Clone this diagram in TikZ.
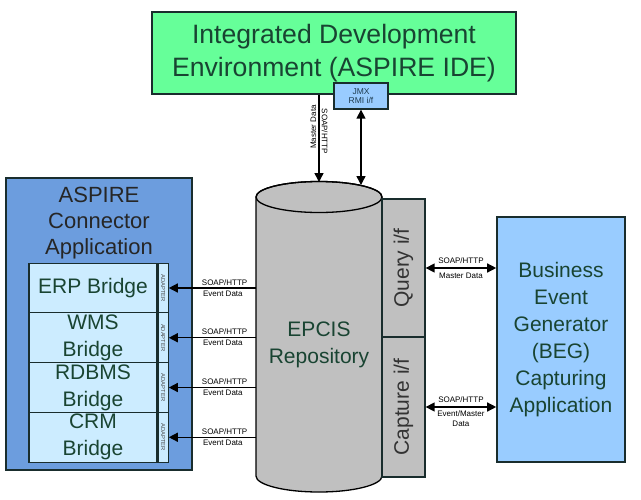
\documentclass[tikz,border=0pt]{standalone}
\usepackage{fontspec}
\setmainfont{Liberation Sans}
\usetikzlibrary{arrows.meta}
\definecolor{idegreen}{RGB}{102,255,153}
\definecolor{connblue}{RGB}{108,157,222}
\definecolor{bridgecyan}{RGB}{204,236,255}
\definecolor{begblue}{RGB}{153,204,255}
\definecolor{repogray}{RGB}{192,192,192}
\definecolor{boxline}{RGB}{25,45,45}
\definecolor{textgreen}{RGB}{25,68,50}

\begin{document}
\begin{tikzpicture}[x=1pt,y=-1pt,
    box/.style={draw=boxline, line width=1.6pt, inner sep=0pt},
    bigtext/.style={text=textgreen, align=center, font=\fontsize{21}{27}\selectfont},
    small/.style={font=\fontsize{8}{9.5}\selectfont, inner sep=2pt, align=center},
    adapterbox/.style={box, fill=bridgecyan, line width=1.2pt, minimum width=10pt, minimum height=49.75pt,
        font=\fontsize{5.8}{6}\selectfont, text=black!70},
    bridgebox/.style={box, fill=bridgecyan, line width=1.2pt, minimum width=128pt, minimum height=49.75pt, bigtext},
    link/.style={line width=1.4pt, -{Triangle[length=9pt,width=9pt]}},
    twolink/.style={line width=1.4pt, {Triangle[length=9pt,width=9pt]}-{Triangle[length=9pt,width=9pt]}}]
\useasboundingbox (0,0) rectangle (641,499);

% IDE on top
\node [box, fill=idegreen, minimum width=364pt, minimum height=82pt, text=textgreen,
       align=center, font=\fontsize{26.6}{33}\selectfont] (ide) at (334,53)
      {Integrated Development\\Environment (ASPIRE IDE)};
\node [box, fill=begblue, line width=1.3pt, minimum width=54pt, minimum height=26pt,
       align=center, font=\fontsize{8.5}{9.5}\selectfont, text={rgb,255:red,30;green,60;blue,80}] (jmx) at (361,96)
      {JMX\\RMI i/f};

% repository cylinder
\filldraw [fill=repogray, line width=1.3pt] (256,197) -- (256,476)
      arc [start angle=180, end angle=360, x radius=63pt, y radius=16pt] -- (382,197)
      arc [start angle=0, end angle=180, x radius=63pt, y radius=15.5pt] -- cycle;
\draw [line width=1.3pt] (319,197) ellipse [x radius=63pt, y radius=15.5pt];
\node [bigtext] (epcis) at (319,345) {EPCIS\\Repository};
\coordinate (cyltop) at (319,182);
\coordinate (cyljmx) at (361,185);
\coordinate (cylwest) at (256,300);

\node [box, fill=repogray, line width=1.3pt, minimum width=43pt, minimum height=138pt] (query) at (403.5,268) {};
\node [rotate=90, font=\fontsize{21}{21}\selectfont, text=black!80] at (query) {Query i/f};
\node [box, fill=repogray, line width=1.3pt, minimum width=43pt, minimum height=140pt] (capture) at (403.5,407) {};
\node [rotate=90, font=\fontsize{21}{21}\selectfont, text=black!80] at (capture) {Capture i/f};

% connector application
\node [box, fill=connblue, minimum width=186pt, minimum height=292pt] (aspire) at (99,324) {};
\node [bigtext, font=\fontsize{22}{26}\selectfont, text=black!85] (aspiretitle) at (99,223) {ASPIRE\\Connector\\Application};
\node [bridgebox] (erp) at (93,288) {ERP Bridge};
\node [bridgebox] (wms) at (93,337.75) {WMS\\Bridge};
\node [bridgebox] (rdbms) at (93,387.5) {RDBMS\\Bridge};
\node [bridgebox] (crm) at (93,437.25) {CRM\\Bridge};
\foreach \b in {erp,wms,rdbms,crm}
  \node [adapterbox, anchor=west] (\b ad) at (\b.east) {\rotatebox{-90}{ADAPTER}};

% capturing application
\node [box, fill=begblue, minimum width=128pt, minimum height=245pt, bigtext] (beg) at (561,339.5)
      {Business\\Event\\Generator\\(BEG)\\Capturing\\Application};

% connectors
\draw [link] (cyltop |- ide.south) --
      node [small, rotate=90, anchor=south, pos=0.37] {Master Data}
      node [small, rotate=-90, anchor=south, pos=0.42] {SOAP/HTTP} (cyltop);
\draw [twolink] (jmx.south) -- (cyljmx);
\foreach \b in {erp,wms,rdbms,crm}
  \draw [link] (cylwest |- \b ad.east) --
      node [small, above, pos=0.36] {SOAP/HTTP}
      node [small, below, pos=0.38] {Event Data} (\b ad.east);
\draw [twolink] (query.east) --
      node [small, above, inner sep=4pt] {SOAP/HTTP}
      node [small, below, inner sep=4pt] {Master Data} (beg.west |- query.east);
\draw [twolink] (capture.east) --
      node [small, above, inner sep=4pt] {SOAP/HTTP}
      node [small, below, inner sep=3pt] {Event/Master\\Data} (beg.west |- capture.east);
\end{tikzpicture}
\end{document}
